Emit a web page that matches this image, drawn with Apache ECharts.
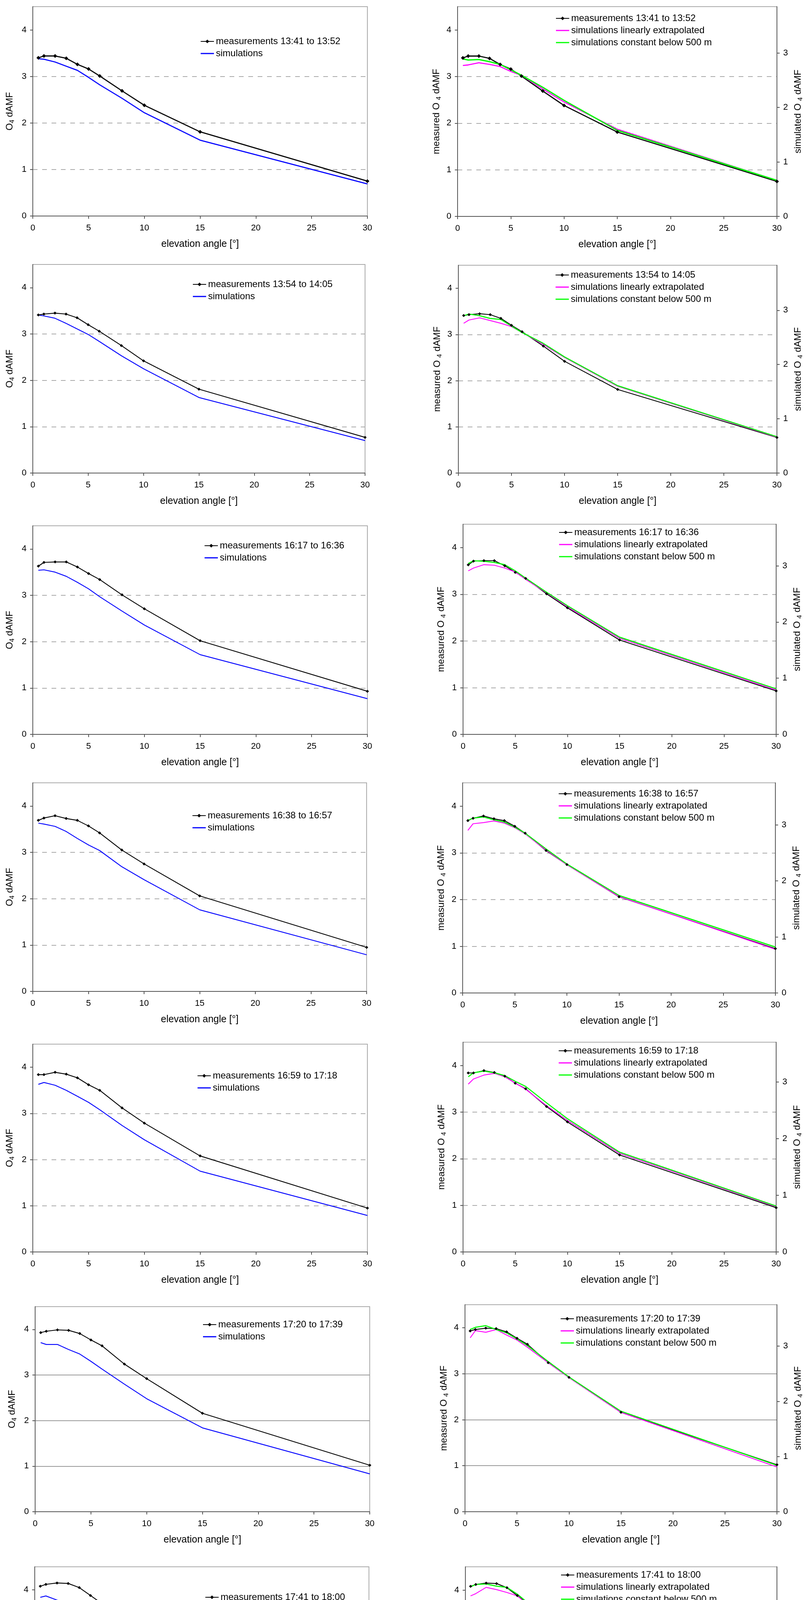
<!DOCTYPE html>
<html>
<head>
<meta charset="utf-8">
<script src="https://cdn.jsdelivr.net/npm/echarts@6/dist/echarts.min.js"></script>
<style>
html,body{margin:0;padding:0;background:#fff;}
#page{position:relative;width:2067px;height:4645px;background:#fff;}
.c{position:absolute;}
</style>
</head>
<body>
<div id="page"></div>
<script>
// ---------------- DATA ----------------
const elevation = [0.5, 1, 2, 3, 4, 5, 6, 8, 10, 15, 30];
const periods = ['13:41 to 13:52','13:54 to 14:05','16:17 to 16:36','16:38 to 16:57','16:59 to 17:18','17:20 to 17:39','17:41 to 18:00'];

// measured O4 dAMF
const meas1 = [3.40,3.44,3.44,3.39,3.26,3.16,3.01,2.69,2.38,1.81,0.75];
const meas2 = [3.41,3.43,3.45,3.43,3.35,3.20,3.06,2.75,2.42,1.81,0.77];
const meas3 = [3.63,3.71,3.72,3.72,3.61,3.47,3.34,3.01,2.71,2.02,0.93];
const meas4 = [3.69,3.74,3.79,3.73,3.69,3.57,3.42,3.05,2.75,2.06,0.95];
const meas5 = [3.84,3.84,3.89,3.85,3.77,3.62,3.50,3.12,2.79,2.08,0.95];
const meas6 = [3.93,3.96,3.99,3.98,3.91,3.77,3.64,3.24,2.92,2.16,1.02];
const meas7 = [4.08,4.12,4.15,4.14,4.05,3.88,3.71,3.32,2.96,2.19,0.97];

// simulations (left column, same axis)
const sim1 = [3.38,3.37,3.31,3.22,3.13,2.98,2.82,2.53,2.22,1.63,0.69];
const sim2 = [3.41,3.39,3.34,3.23,3.11,2.99,2.84,2.53,2.25,1.63,0.70];
const sim3 = [3.54,3.55,3.50,3.41,3.28,3.14,2.97,2.66,2.36,1.72,0.77];
const sim4 = [3.63,3.61,3.56,3.45,3.30,3.16,3.04,2.69,2.41,1.76,0.79];
const sim5 = [3.63,3.67,3.61,3.50,3.37,3.24,3.08,2.74,2.43,1.75,0.79];
const sim6 = [3.71,3.67,3.67,3.56,3.46,3.30,3.13,2.80,2.48,1.84,0.83];
const sim7 = [3.84,3.87,3.78,3.67,3.56,3.41,3.22,2.87,2.55,1.87,0.83];

// simulations linearly extrapolated (right column, simulated axis)
const simLin1 = [2.77,2.78,2.82,2.79,2.75,2.66,2.59,2.34,2.10,1.60,0.66];
const simLin2 = [2.76,2.82,2.86,2.81,2.76,2.70,2.59,2.37,2.13,1.60,0.66];
const simLin3 = [2.91,2.96,3.02,3.01,2.96,2.89,2.76,2.52,2.27,1.71,0.79];
const simLin4 = [2.90,3.02,3.04,3.07,3.03,2.95,2.84,2.55,2.29,1.72,0.78];
const simLin5 = [2.96,3.05,3.12,3.15,3.09,2.98,2.87,2.58,2.32,1.74,0.80];
const simLin6 = [3.15,3.28,3.25,3.30,3.20,3.11,2.98,2.70,2.43,1.80,0.81];
const simLin7 = [3.16,3.20,3.31,3.27,3.22,3.16,3.01,2.72,2.42,1.79,0.80];

// simulations constant below 500 m (right column, simulated axis)
const simConst1 = [2.89,2.87,2.88,2.84,2.79,2.69,2.59,2.37,2.13,1.58,0.66];
const simConst2 = [2.90,2.93,2.90,2.85,2.83,2.71,2.59,2.39,2.14,1.61,0.67];
const simConst3 = [3.04,3.09,3.08,3.06,3.02,2.91,2.78,2.53,2.29,1.73,0.81];
const simConst4 = [3.08,3.12,3.14,3.09,3.05,2.96,2.85,2.57,2.30,1.74,0.82];
const simConst5 = [3.09,3.16,3.19,3.16,3.11,3.01,2.92,2.63,2.35,1.76,0.81];
const simConst6 = [3.30,3.34,3.37,3.30,3.24,3.13,3.01,2.72,2.44,1.82,0.84];
const simConst7 = [3.32,3.36,3.37,3.33,3.31,3.19,3.04,2.75,2.47,1.81,0.81];

// axis ranges
const xTicks = [0, 5, 10, 15, 20, 25, 30];
const measuredTicks = [0, 1, 2, 3, 4];
const simulatedTicks = [0, 1, 2, 3];
const measuredMax = 4.5;
const simulatedMax = [3.85, 3.83, 3.74, 3.75, 3.70, 3.75, 3.67];

const measAll = [meas1,meas2,meas3,meas4,meas5,meas6,meas7];
const simAll = [sim1,sim2,sim3,sim4,sim5,sim6,sim7];
const simLinAll = [simLin1,simLin2,simLin3,simLin4,simLin5,simLin6,simLin7];
const simConstAll = [simConst1,simConst2,simConst3,simConst4,simConst5,simConst6,simConst7];

// ---------------- LAYOUT ----------------
const FONT = "'Liberation Sans', Arial, Helvetica, sans-serif";
const rowTop = [0, 660, 1320, 1980, 2640, 3300, 3960];
const rowH = [660, 660, 660, 660, 660, 660, 685];
// absolute plot boxes [x0, x1, top, bottom]
const leftPlot = [[84,941,17,553],[84,935,677,1211],[84,941,1346,1880],[84,939,2004,2538],[84,941,2673,3205],[90,947,3345,3879],[89,945,4011,4544]];
const rightPlot = [[1172,1990,17,554],[1174,1991,679,1211],[1186,1988,1342,1880],[1185,1986,2004,2542],[1186,1988,2668,3205],[1191,1994,3340,3878],[1192,1991,4011,4547]];
// legend sample start x, first row centre y (absolute)
const leftLegend = [[513,106],[493,728],[523,1397],[492,2088],[505,2754],[519,3391],[525,4089]];
const rightLegend = [[1423,47],[1422,704],[1431,1363],[1430,2032],[1430,2690],[1435,3376],[1436,4032]];
const measNameOffset = [42,51,53,52,52,51,52];
const gridType = ['dashed','dashed','dashed','dashed','dashed','solid','dashed'];
const lineW = [2.8,2.2,2.2,2.2,2.2,2.2,2.2];
const symSize = [10,8,8,8,8,8,8];
const LINE_ICON = 'path://M0,0H34V3H0Z';

const page = document.getElementById('page');

function xAxisOpt(){
  return {
    type:'value', min:0, max:30, interval:5,
    name:'elevation angle [°]', nameLocation:'middle', nameGap:60,
    nameTextStyle:{fontSize:25, color:'#000', fontFamily:FONT},
    axisLine:{show:true, onZero:false, lineStyle:{color:'#555', width:2}},
    axisTick:{show:true, length:7, lineStyle:{color:'#555', width:2}},
    axisLabel:{fontSize:22, color:'#000', margin:20, fontFamily:FONT,
      customValues: xTicks},
    splitLine:{show:false}
  };
}
function richName(){
  return {
    fontFamily:FONT, color:'#000',
    rich:{
      a:{fontSize:24, fontFamily:FONT, color:'#000'},
      s:{fontSize:16, fontFamily:FONT, color:'#000', padding:[13,0,0,0]}
    }
  };
}
function splitStyle(r){
  return {show:true, showMinLine:false, showMaxLine:false,
    lineStyle:{color: gridType[r]==='solid' ? '#999' : '#aaa', width:2,
      type: gridType[r]==='solid' ? 'solid' : [12,12]}};
}
function legendOpt(pos, divLeft, divTop, names, padR){
  return {
    orient:'vertical', left: pos[0]-divLeft-5, top: pos[1]-divTop-12-3,
    itemWidth:34, itemHeight:12, itemGap:7,
    padding:[3,padR,3,5], backgroundColor:'#fff',
    selectedMode:false,
    textStyle:{fontSize:24, lineHeight:24, color:'#000', fontFamily:FONT},
    data:names
  };
}

function makeDiv(left, top, w, h){
  const d = document.createElement('div');
  d.className='c';
  d.style.left=left+'px'; d.style.top=top+'px';
  d.style.width=w+'px'; d.style.height=h+'px';
  page.appendChild(d);
  return d;
}

for(let r=0; r<7; r++){
  const measData = elevation.map((x,i)=>[x, measAll[r][i]]);
  const measName = 'measurements ' + periods[r];

  // ---- left chart ----
  {
    const divLeft = 0, divTop = rowTop[r], w = 1033, h = rowH[r];
    const p = leftPlot[r];
    const chart = echarts.init(makeDiv(divLeft, divTop, w, h), null, {renderer:'canvas'});
    chart.setOption({
      animation:false,
      grid:{left:p[0]-divLeft, width:p[1]-p[0], top:p[2]-divTop, height:p[3]-p[2],
        show:true, borderColor:'#aaa', borderWidth:2},
      legend: legendOpt(leftLegend[r], divLeft, divTop,
        [measName, {name:'simulations', icon:LINE_ICON}], 30),
      xAxis: xAxisOpt(),
      yAxis: {
        type:'value', min:0, max:measuredMax, interval:1, position:'left',
        name:'{a|O}{s|4}{a| dAMF}', nameLocation:'middle', nameGap:44, nameRotate:90,
        nameTextStyle: richName(),
        axisLine:{show:true, lineStyle:{color:'#555', width:2}},
        axisTick:{show:true, length:7, lineStyle:{color:'#555', width:2}, customValues: measuredTicks},
        axisLabel:{fontSize:22, color:'#000', margin:16, fontFamily:FONT, customValues: measuredTicks},
        splitLine: splitStyle(r)
      },
      series:[
        {name:'simulations', type:'line', symbol:'none',
          data: elevation.map((x,i)=>[x, simAll[r][i]]),
          lineStyle:{color:'#0000ff', width:lineW[r]}, itemStyle:{color:'#0000ff'}},
        {name:measName, type:'line', symbol:'diamond', symbolSize:symSize[r],
          data: measData,
          lineStyle:{color:'#000', width:lineW[r]}, itemStyle:{color:'#000'}}
      ]
    });
  }

  // ---- right chart ----
  {
    const divLeft = 1033, divTop = rowTop[r], w = 1034, h = rowH[r];
    const p = rightPlot[r];
    const chart = echarts.init(makeDiv(divLeft, divTop, w, h), null, {renderer:'canvas'});
    chart.setOption({
      animation:false,
      grid:{left:p[0]-divLeft, width:p[1]-p[0], top:p[2]-divTop, height:p[3]-p[2],
        show:true, borderColor:'#aaa', borderWidth:2},
      legend: legendOpt(rightLegend[r], divLeft, divTop,
        [measName,
         {name:'simulations linearly extrapolated', icon:LINE_ICON},
         {name:'simulations constant below 500 m', icon:LINE_ICON}], 105),
      xAxis: xAxisOpt(),
      yAxis: [{
        type:'value', min:0, max:measuredMax, interval:1, position:'left',
        name:'{a|measured O }{s|4}{a| dAMF}', nameLocation:'middle', nameGap:measNameOffset[r]-12, nameRotate:90,
        nameTextStyle: richName(),
        axisLine:{show:true, lineStyle:{color:'#555', width:2}},
        axisTick:{show:true, length:7, lineStyle:{color:'#555', width:2}, customValues: measuredTicks},
        axisLabel:{fontSize:22, color:'#000', margin:16, fontFamily:FONT, customValues: measuredTicks},
        splitLine: splitStyle(r)
      },{
        type:'value', min:0, max:simulatedMax[r], interval:1, position:'right',
        name:'{a|simulated O }{s|4}{a| dAMF}', nameLocation:'middle', nameGap:40, nameRotate:90,
        nameTextStyle: richName(),
        axisLine:{show:true, lineStyle:{color:'#555', width:2}},
        axisTick:{show:true, length:7, lineStyle:{color:'#555', width:2}, customValues: simulatedTicks},
        axisLabel:{fontSize:22, color:'#000', margin:16, fontFamily:FONT, customValues: simulatedTicks},
        splitLine:{show:false}
      }],
      series:[
        {name:measName, type:'line', symbol:'diamond', symbolSize:symSize[r], yAxisIndex:0,
          data: measData,
          lineStyle:{color:'#000', width:lineW[r]}, itemStyle:{color:'#000'}},
        {name:'simulations linearly extrapolated', type:'line', symbol:'none', yAxisIndex:1,
          data: elevation.map((x,i)=>[x, simLinAll[r][i]]),
          lineStyle:{color:'#ff00ff', width:lineW[r]}, itemStyle:{color:'#ff00ff'}},
        {name:'simulations constant below 500 m', type:'line', symbol:'none', yAxisIndex:1,
          data: elevation.map((x,i)=>[x, simConstAll[r][i]]),
          lineStyle:{color:'#00ff00', width:lineW[r]+0.5}, itemStyle:{color:'#00ff00'}}
      ]
    });
  }
}
</script>
</body>
</html>
